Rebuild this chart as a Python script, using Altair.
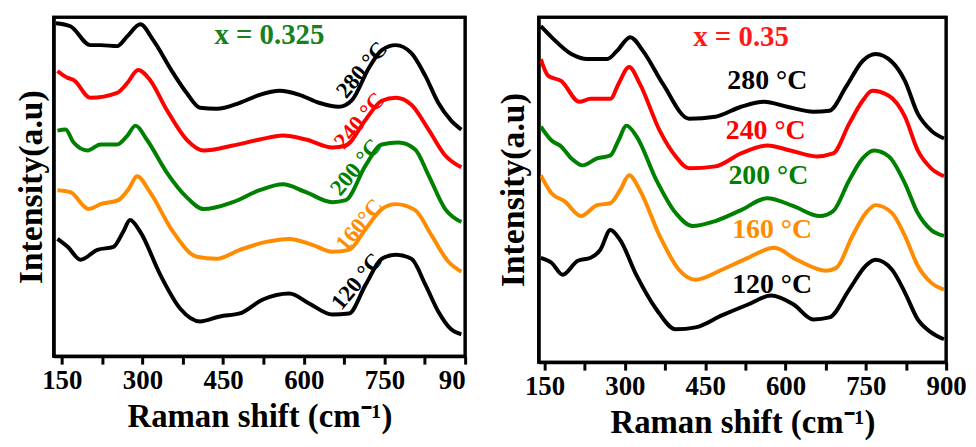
import altair as alt
import pandas as pd

# ---------------- data: left panel (x = 0.325) ----------------
L280_x = [139,166,203,222,253,272,296,320,357,382,407,438,481,518,555,592,628,665,690,721,745,771,800,826,850,874,893]
L280_y = [335,332,313,313,312,322,334,318,285,265,250,249,255,263,267,263,255,251,258,290,308,313,305,282,255,237,228]
L240_x = [142,161,172,203,253,272,292,314,345,382,414,468,518,561,604,653,678,715,745,771,800,832,863,893]
L240_y = [287,280,278,260,265,275,288,278,248,218,207,212,218,222,218,210,212,238,257,260,253,228,202,190]
L200_x = [142,157,172,198,222,253,272,287,308,345,382,414,468,518,561,604,653,678,715,745,776,807,832,863,893]
L200_y = [227,228,215,207,213,213,222,232,218,185,160,148,155,167,173,165,155,157,192,213,215,208,182,148,135]
L160_x = [142,166,200,222,255,274,290,314,357,401,438,481,530,573,616,653,684,715,745,771,807,837,869,893]
L160_y = [167,165,148,153,157,168,181,165,125,100,98,107,115,118,112,105,107,128,148,153,147,122,95,85]
L120_x = [142,161,185,216,246,264,277,296,333,370,407,444,481,524,573,610,653,684,715,745,771,800,826,850,874,893]
L120_y = [118,110,97,107,110,125,137,125,82,48,35,40,43,57,63,53,42,43,72,98,102,98,72,45,27,22]

# ---------------- data: right panel (x = 0.35) ----------------
R280_x = [143,163,200,230,267,285,310,334,371,420,469,517,560,603,652,682,713,744,768,799,823,847,872,896]
R280_y = [338,327,310,305,305,313,327,313,280,245,247,257,262,257,252,253,277,303,310,302,283,250,233,225]
R240_x = [143,157,181,215,236,273,288,308,328,365,395,420,469,517,566,609,658,689,719,744,762,793,823,847,872,896]
R240_y = [305,288,283,262,265,265,280,297,280,233,207,195,197,210,218,213,207,210,240,263,273,268,247,213,195,187]
R200_x = [143,163,181,200,221,248,273,288,303,322,359,395,426,469,517,566,615,664,689,719,744,765,793,823,847,872,896]
R200_y = [237,223,217,205,198,205,208,223,238,227,183,150,137,142,153,165,157,147,152,183,205,213,207,180,150,133,127]
R160_x = [143,163,187,218,248,273,291,308,328,365,401,432,481,530,579,621,676,695,725,750,768,799,823,847,872,896]
R160_y = [188,170,162,147,158,160,173,188,173,127,93,83,93,105,115,103,92,95,127,150,158,150,127,97,80,73]
R120_x = [143,163,184,212,236,254,273,291,322,359,395,432,481,530,573,615,652,682,719,750,768,799,823,847,872,896]
R120_y = [105,100,88,102,105,113,133,123,87,53,33,35,47,58,67,58,43,45,73,97,103,93,70,43,30,23]

series_names = ["280", "240", "200", "160", "120"]
series_colors = ["#000000", "#ff0000", "#008000", "#ff8c00", "#000000"]

left_labels = ["280 °C", "240 °C", "200 °C", "160°C", "120 °C"]
right_labels = ["280 °C", "240 °C", "200 °C", "160 °C", "120 °C"]

# annotation anchors (data units)
left_lab_x = [708, 704, 697, 704, 699]
left_lab_y = [288, 237, 190, 132, 75]
right_lab_x = [566, 563, 568, 575, 575]
right_lab_y = [283, 233, 187, 133, 78]

x_ticks = [150, 225, 300, 375, 450, 525, 600, 675, 750, 825, 900]

FONT = "Liberation Serif"


def curves_df(xs, ys):
    rows = []
    for name, xv, yv in zip(series_names, xs, ys):
        for a, b in zip(xv, yv):
            rows.append({"shift": a, "intensity": b, "series": name})
    return pd.DataFrame(rows)


def panel(xs, ys, labels, lab_x, lab_y, angle, lab_size, tag, tag_color, tag_x, tag_y,
          xdom, ydom, w, h, ytitle_pad, last_label):
    df = curves_df(xs, ys)
    xaxis = alt.Axis(
        values=x_ticks,
        labelExpr=f"datum.value == 900 ? '{last_label}' : (datum.value % 150 == 0 ? datum.label : '')",
        labelAlign={"condition": {"test": "datum.value == 900", "value": "right" if last_label == "90" else "center"}, "value": "center"},
        tickSize=8, tickWidth=3, tickColor="black", domainWidth=3, domainColor="black",
        labelFont=FONT, labelFontWeight="bold", labelFontSize=27, labelColor="black",
        labelPadding=4, labelFlush=False,
        title="Raman shift (cm⁻¹)", titleFont=FONT, titleFontWeight="bold",
        titleFontSize=33, titleColor="black", titlePadding=7, grid=False,
    )
    yaxis = alt.Axis(
        labels=False, ticks=False, domainWidth=3, domainColor="black", grid=False,
        title="Intensity(a.u)", titleFont=FONT, titleFontWeight="bold",
        titleFontSize=34, titleColor="black", titlePadding=ytitle_pad,
    )
    xs_scale = alt.Scale(domain=xdom, nice=False, zero=False)
    ys_scale = alt.Scale(domain=ydom, nice=False, zero=False)

    lines = alt.Chart(df).mark_line(strokeWidth=4, interpolate="monotone", clip=True).encode(
        x=alt.X("shift:Q", scale=xs_scale, axis=xaxis),
        y=alt.Y("intensity:Q", scale=ys_scale, axis=yaxis),
        color=alt.Color("series:N", scale=alt.Scale(domain=series_names, range=series_colors), legend=None),
        detail="series:N",
    )
    lab_df = pd.DataFrame({"x": lab_x, "y": lab_y, "t": labels, "c": series_colors})
    texts = alt.Chart(lab_df).mark_text(
        font=FONT, fontWeight="bold", fontSize=lab_size, angle=angle, align="center", baseline="middle"
    ).encode(
        x=alt.X("x:Q", scale=xs_scale), y=alt.Y("y:Q", scale=ys_scale),
        text="t:N", color=alt.Color("c:N", scale=None),
    )
    tag_df = pd.DataFrame({"x": [tag_x], "y": [tag_y], "t": [tag]})
    tag_mark = alt.Chart(tag_df).mark_text(
        font=FONT, fontWeight="bold", fontSize=29, color=tag_color, align="center", baseline="middle"
    ).encode(x=alt.X("x:Q", scale=xs_scale), y=alt.Y("y:Q", scale=ys_scale), text="t:N")
    frame = alt.Chart(pd.DataFrame({"k": [0]})).mark_rect(
        fill=None, fillOpacity=0, stroke="black", strokeWidth=3
    ).encode(x=alt.value(0), x2=alt.value(w), y=alt.value(0), y2=alt.value(h))
    return alt.layer(lines, texts, tag_mark, frame).properties(width=w, height=h)


left = panel([L280_x, L240_x, L200_x, L160_x, L120_x], [L280_y, L240_y, L200_y, L160_y, L120_y],
             left_labels, left_lab_x, left_lab_y, 310, 23, "x = 0.325", "#1a801a", 536, 323,
             [135, 900], [0, 341], 414, 341, 5, "90")
right = panel([R280_x, R240_x, R200_x, R160_x, R120_x], [R280_y, R240_y, R200_y, R160_y, R120_y],
              right_labels, right_lab_x, right_lab_y, 0, 28, "x = 0.35", "#ff1a1a", 517, 327,
              [139, 900], [0, 347], 410, 347, 8, "900")

chart = alt.hconcat(left, right, spacing=27).properties(
    padding={"left": 5, "top": 5, "right": 0, "bottom": 0}
).configure_view(
    stroke="black", strokeWidth=3
)

chart.save("out.html", embed_options={"renderer": "svg", "actions": False})
